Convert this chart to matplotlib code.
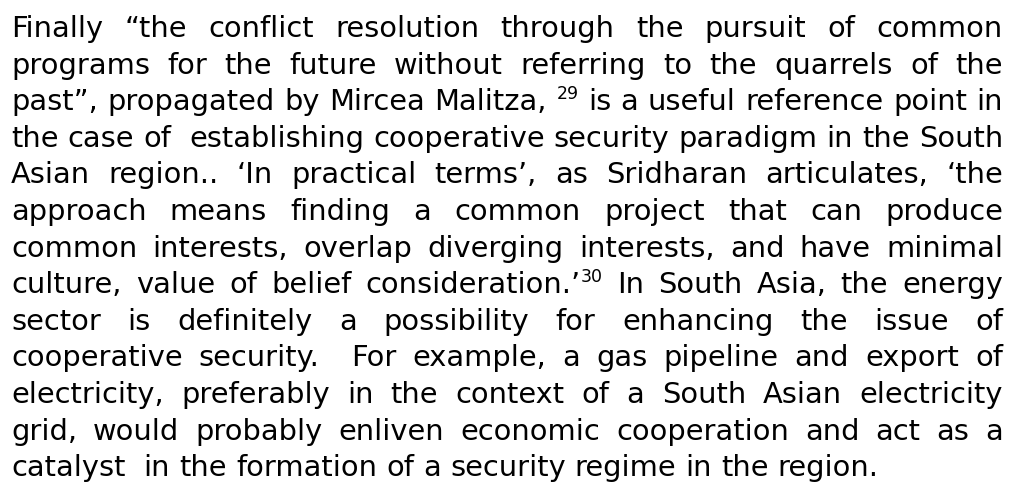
import matplotlib
matplotlib.use("Agg")
import matplotlib.pyplot as plt

# paragraph lines as they break in the picture; "^" marks a superscript note number
lines = [
    "Finally \u201cthe conflict resolution through the pursuit of common",
    "programs for the future without referring to the quarrels of the",
    "past\u201d, propagated by Mircea Malitza, ^29 is a useful reference point in",
    "the case of  establishing cooperative security paradigm in the South",
    "Asian region.. \u2018In practical terms\u2019, as Sridharan articulates, \u2018the",
    "approach means finding a common project that can produce",
    "common interests, overlap diverging interests, and have minimal",
    "culture, value of belief consideration.\u2019^30 In South Asia, the energy",
    "sector is definitely a possibility for enhancing the issue of",
    "cooperative security.  For example, a gas pipeline and export of",
    "electricity, preferably in the context of a South Asian electricity",
    "grid, would probably enliven economic cooperation and act as a",
    "catalyst  in the formation of a security regime in the region.",
]

W, H = 1012, 490
LEFT, RIGHT = 11, 1003
FIRST_BASE, STEP = 37, 36.6
FAMILY = "DejaVu Sans"
SIZE = 20.8

fig = plt.figure(figsize=(W / 100, H / 100), dpi=100)
fig.patch.set_facecolor("white")
ax = fig.add_axes([0, 0, 1, 1])
ax.set_xlim(0, W)
ax.set_ylim(H, 0)
ax.axis("off")
renderer = fig.canvas.get_renderer()


def width(s, size):
    if not s:
        return 0.0
    t = ax.text(0, 0, s, fontsize=size, family=FAMILY)
    w = t.get_window_extent(renderer).width
    t.remove()
    return w


def split_token(tok):
    if "^" in tok:
        base, sup = tok.split("^", 1)
        return base, sup
    return tok, ""


def token_width(tok, size):
    base, sup = split_token(tok)
    return width(base, size) + width(sup, size * 0.6)


space = width("x x", SIZE) - 2 * width("x", SIZE)

for i, line in enumerate(lines):
    y = FIRST_BASE + i * STEP
    toks = line.split(" ")
    widths = [token_width(t, SIZE) for t in toks]
    last = i == len(lines) - 1
    if last or len(toks) < 2:
        gap = space
    else:
        gap = (RIGHT - LEFT - sum(widths)) / (len(toks) - 1)
    x = LEFT
    for tok, w in zip(toks, widths):
        base, sup = split_token(tok)
        if base:
            ax.text(x, y, base, fontsize=SIZE, family=FAMILY, va="baseline", color="black")
        if sup:
            ax.text(x + width(base, SIZE), y - 11, sup, fontsize=SIZE * 0.6,
                    family=FAMILY, va="baseline", color="black")
        x += w + gap

fig.savefig("out.png", dpi=100, facecolor="white")
